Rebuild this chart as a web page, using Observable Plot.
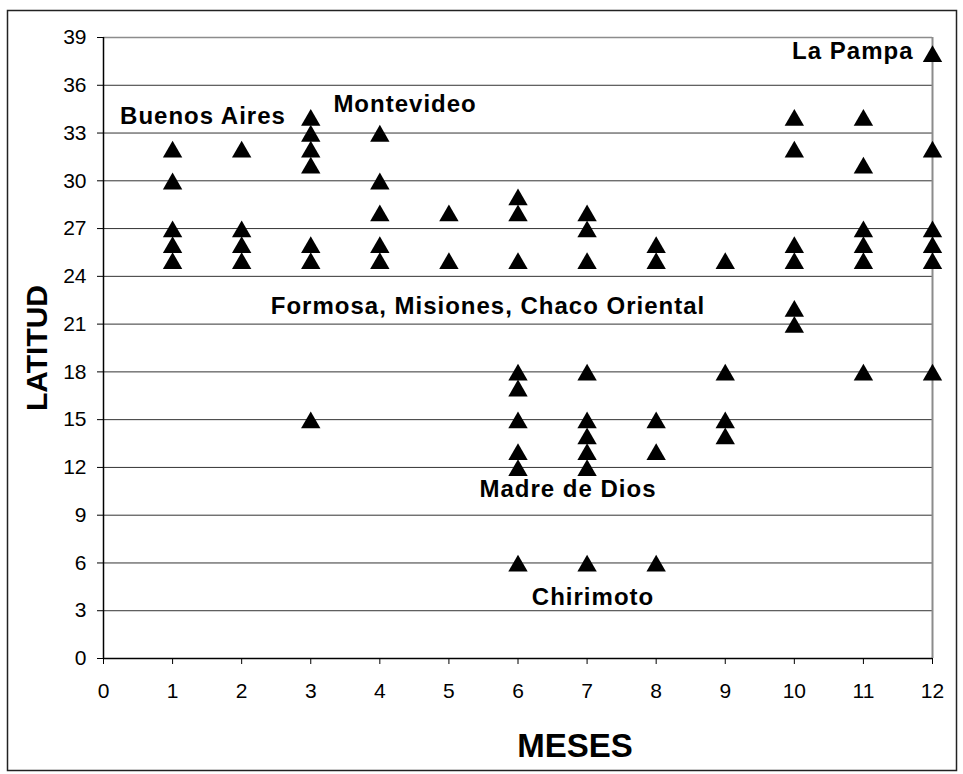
<!DOCTYPE html>
<html>
<head>
<meta charset="utf-8">
<script src="https://cdn.jsdelivr.net/npm/d3@7"></script>
<script src="https://cdn.jsdelivr.net/npm/@observablehq/plot@0.6"></script>
<style>
  body { margin: 0; background: white; }
  svg { display: block; }
</style>
</head>
<body>
<script>
// Data: month (MESES) and latitude (LATITUD) of each observation
const mes = [
  1,1,1,1,1,
  2,2,2,2,
  3,3,3,3,3,3,3,
  4,4,4,4,4,
  5,5,
  6,6,6,6,6,6,6,6,6,
  7,7,7,7,7,7,7,7,7,
  8,8,8,8,8,
  9,9,9,9,
  10,10,10,10,10,10,
  11,11,11,11,11,11,
  12,12,12,12,12,12
];
const latitud = [
  32,30,27,26,25,
  32,27,26,25,
  34,33,32,31,26,25,15,
  33,30,28,26,25,
  28,25,
  29,28,25,18,17,15,13,12,6,
  28,27,25,18,15,14,13,12,6,
  26,25,15,13,6,
  25,18,15,14,
  34,32,26,25,22,21,
  34,31,27,26,25,18,
  38,32,27,26,25,18
];

// Tick values
const ticksX = [0,1,2,3,4,5,6,7,8,9,10,11,12];
const ticksY = [0,3,6,9,12,15,18,21,24,27,30,33,36,39];

// Place-name annotations (data coordinates)
const etiquetas = ["Buenos Aires","Montevideo","La Pampa","Formosa, Misiones, Chaco Oriental","Madre de Dios","Chirimoto"];
const etiquetaX = [1.44, 4.365, 11.725, 5.566, 6.724, 7.086];
const etiquetaY = [34.1, 34.89, 38.17, 22.17, 10.71, 3.89];
const etiquetaAnchor = ["middle","middle","end","middle","middle","middle"];

const puntos = mes.map((m, i) => ({mes: m, latitud: latitud[i]}));
const notas = etiquetas.map((t, i) => ({text: t, x: etiquetaX[i], y: etiquetaY[i], anchor: etiquetaAnchor[i]}));

const font = "'Liberation Sans', Arial, Helvetica, sans-serif";

const chart = Plot.plot({
  width: 963,
  height: 774,
  marginLeft: 103,
  marginRight: 31,
  marginTop: 37,
  marginBottom: 116,
  style: {fontFamily: font, fontSize: "21px", background: "white", color: "black"},
  x: {domain: [0, 12]},
  y: {domain: [0, 39]},
  marks: [
    Plot.gridY(ticksY.filter(d => d > 0 && d < 39), {stroke: "#333", strokeOpacity: 1, strokeWidth: 1}),
    Plot.ruleY([39], {stroke: "#8c8c8c", strokeWidth: 1.5}),
    Plot.ruleX([12], {stroke: "#8c8c8c", strokeWidth: 2}),
    Plot.ruleX([0], {stroke: "black", strokeWidth: 1.5}),
    Plot.ruleY([0], {stroke: "black", strokeWidth: 1.5}),
    Plot.axisY(ticksY, {tickSize: 6, tickPadding: 11, label: null, fontSize: 21}),
    Plot.axisX(ticksX, {tickSize: 6, tickPadding: 19, label: null, fontSize: 21}),
    Plot.dot(puntos, {x: "mes", y: "latitud", symbol: "triangle", r: 7.2, fill: "black", stroke: "none", dy: 3}),
    Plot.text(notas.filter(d => d.anchor === "middle"), {x: "x", y: "y", text: "text", fontSize: 24, fontWeight: "bold", textAnchor: "middle", dy: 1}),
    Plot.text(notas.filter(d => d.anchor === "end"), {x: "x", y: "y", text: "text", fontSize: 24, fontWeight: "bold", textAnchor: "end", dy: 1}),
    Plot.text(["MESES"], {frameAnchor: "bottom", text: d => d, fontSize: 33, fontWeight: "bold", textAnchor: "middle", lineAnchor: "middle", dx: 57, dy: 88}),
    Plot.text(["LATITUD"], {frameAnchor: "left", text: d => d, fontSize: 30, fontWeight: "bold", rotate: -90, textAnchor: "middle", lineAnchor: "middle", dx: -66})
  ]
});

document.body.appendChild(chart);

// letter spacing like the original annotation text
d3.select(chart).selectAll("text").filter(function() {
  return etiquetas.includes(this.textContent);
}).style("letter-spacing", "1px");

// outer chart border
d3.select(chart).append("rect")
  .attr("x", 7.5).attr("y", 10.5)
  .attr("width", 949).attr("height", 760)
  .attr("fill", "none").attr("stroke", "#222").attr("stroke-width", 1.5);
</script>
</body>
</html>
